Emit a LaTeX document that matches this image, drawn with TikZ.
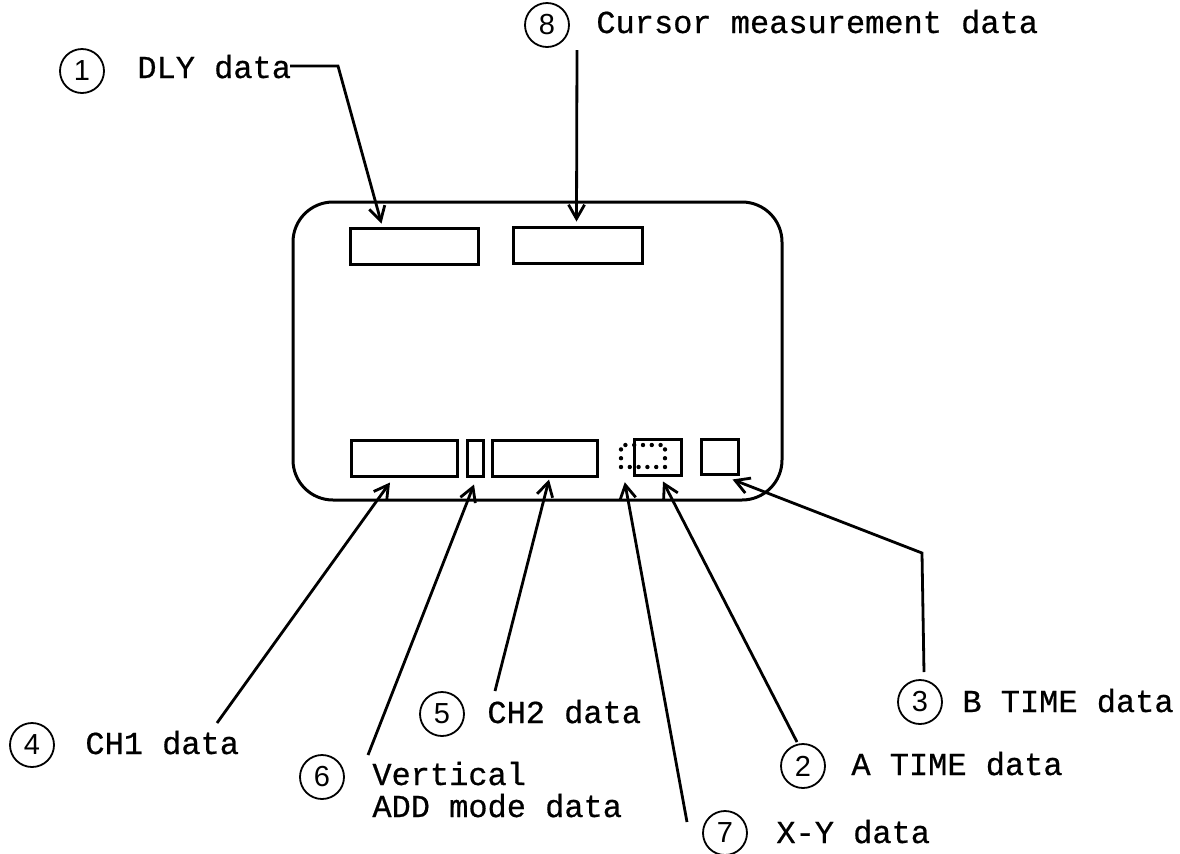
\documentclass[tikz,border=0pt]{standalone}
\usepackage{fontspec}
\newfontfamily\typer[FakeBold=0.6]{Liberation Mono}
\newfontfamily\numfont{Liberation Sans}
\usetikzlibrary{arrows.meta}
\tikzset{
  frame/.style={draw, line width=1.5pt, rounded corners=20pt},
  databox/.style={draw, line width=1.5pt, inner sep=0pt, rectangle},
  dotbox/.style={draw, line width=2.2pt, line cap=round, dash pattern=on 0pt off 4.4pt, inner sep=0pt, rectangle},
  num/.style={draw, circle, line width=0.9pt, minimum size=22pt, inner sep=0pt, font=\numfont\fontsize{14.5}{16}\selectfont},
  lbl/.style={anchor=base west, inner sep=0pt, font=\typer\fontsize{16}{16}\selectfont},
  pointer/.style={line width=1.4pt, -{Straight Barb[length=7pt,width=8pt,line width=1.4pt]}}
}
\begin{document}
\begin{tikzpicture}[x=0.5pt,y=-0.5pt]
\useasboundingbox (0,0) rectangle (1180,853);
% screen outline
\draw[frame] (293,202) rectangle (782,500);
% data areas
\node[databox, minimum width=64pt, minimum height=18pt] (dly) at (414,246) {};
\node[databox, minimum width=64.5pt, minimum height=18pt] (cur) at (577.5,245) {};
\node[databox, minimum width=53pt, minimum height=18pt] (ch1) at (404,458) {};
\node[databox, minimum width=8pt, minimum height=18pt] (add) at (475,458) {};
\node[databox, minimum width=52.5pt, minimum height=18pt] (ch2) at (544.5,458) {};
\node[dotbox, minimum width=22pt, minimum height=11pt] (xy) at (643,456) {};
\node[databox, minimum width=23.5pt, minimum height=18pt] (at) at (657.5,457) {};
\node[databox, minimum width=18.5pt, minimum height=17.5pt] (bt) at (719.5,456.5) {};
% labels
\node[num] (n1) at (82,71) {1};
\node[lbl] (l1) at (137,78) {DLY data};
\node[num] (n8) at (547,25) {8};
\node[lbl] (l8) at (596,33) {Cursor measurement data};
\node[num] (n4) at (32,745) {4};
\node[lbl] (l4) at (85,754) {CH1 data};
\node[num] (n6) at (322,777) {6};
\node[lbl, align=left] (l6) at (372,817) {Vertical\\ADD mode data};
\node[num] (n5) at (442,714) {5};
\node[lbl] (l5) at (487,723) {CH2 data};
\node[num] (n7) at (725,833) {7};
\node[lbl] (l7) at (776,843) {X-Y data};
\node[num] (n2) at (803,766) {2};
\node[lbl] (l2) at (851,775) {A TIME data};
\node[num] (n3) at (920,702) {3};
\node[lbl] (l3) at (962,712) {B TIME data};
% pointer tails and bends
\coordinate (a1) at (290,66);
\coordinate (b1) at (338,66);
\coordinate (a8) at (577,50);
\coordinate (a4) at (217,723);
\coordinate (a6) at (368,755);
\coordinate (a5) at (495,691);
\coordinate (a7) at (687,822);
\coordinate (a2) at (797,742);
\coordinate (a3) at (924,672);
\coordinate (b3) at (922,553);
% pointers
\draw[pointer] (a1) -- (b1) -- ([xshift=16.5pt,yshift=1.5pt]dly.north west);
\draw[pointer] (a8) -- ([xshift=-0.5pt,yshift=2pt]cur.north);
\draw[pointer] (a4) -- ([xshift=-7pt,yshift=-2.5pt]ch1.south);
\draw[pointer] (a6) -- ([xshift=-0.5pt,yshift=-3.5pt]add.south);
\draw[pointer] (a5) -- ([xshift=2.25pt,yshift=-1pt]ch2.south);
\draw[pointer] (a7) -- ([xshift=3pt,yshift=-6.5pt]xy.south west);
\draw[pointer] (a2) -- ([xshift=2.75pt,yshift=-2.5pt]at.south);
\draw[pointer] (a3) -- (b3) -- ([xshift=-3.5pt,yshift=-2pt]bt.south east);
\end{tikzpicture}
\end{document}
